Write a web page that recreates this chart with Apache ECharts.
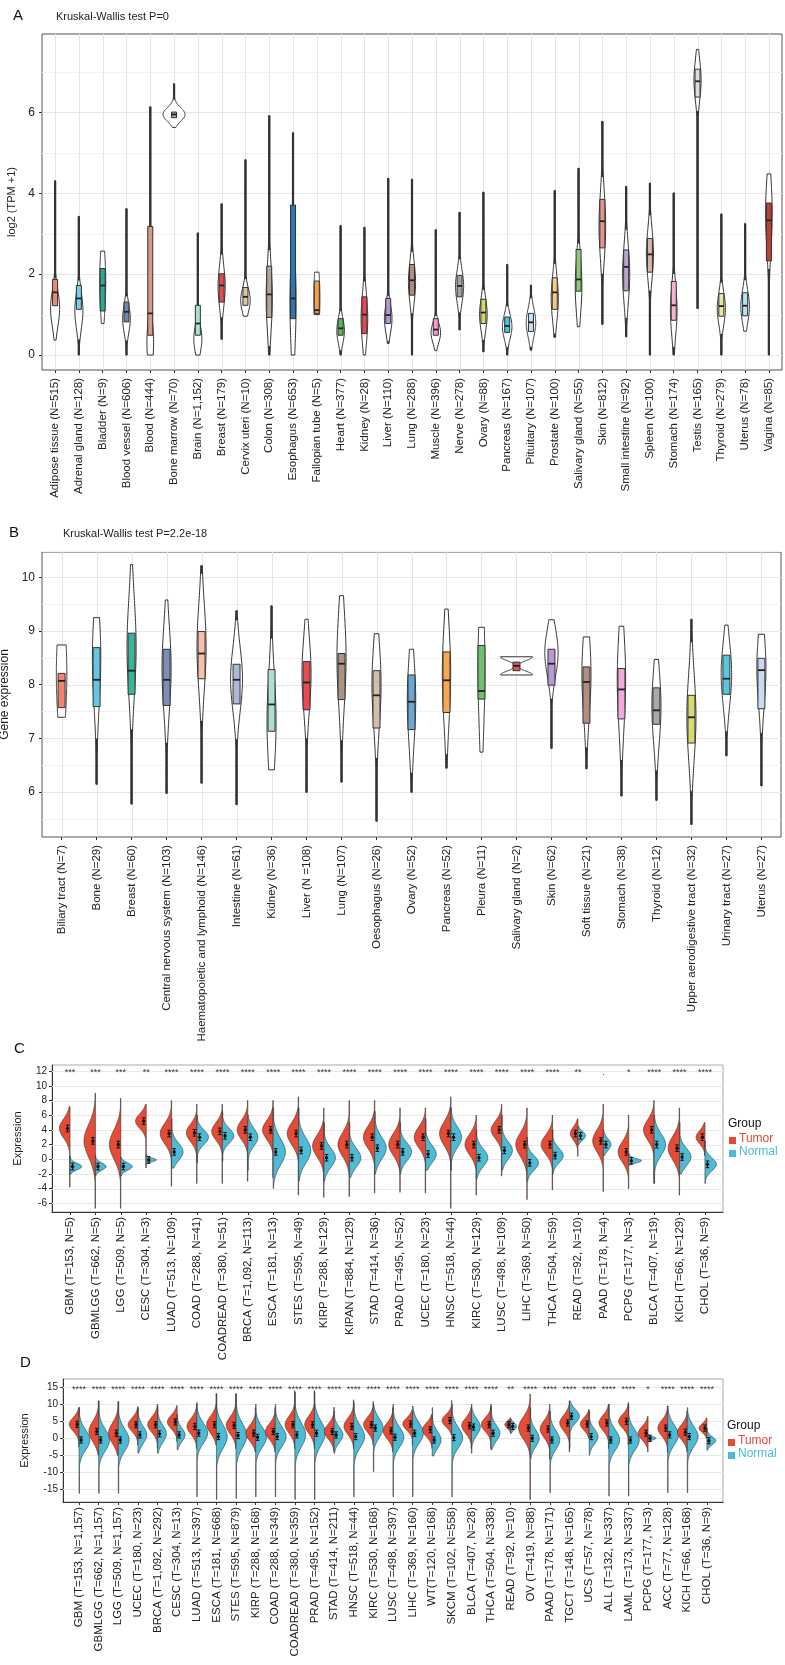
<!DOCTYPE html>
<html><head><meta charset="utf-8">
<script src="https://cdn.jsdelivr.net/npm/echarts@6/dist/echarts.min.js"></script>
<style>html,body{margin:0;padding:0;background:#fff}#c{width:785px;height:1665px}</style>
</head><body><div id="c"></div>
<script>
// ================= Panel A (GTEx tissues) =================
const aNames = ['Adipose tissue (N=515)','Adrenal gland (N=128)','Bladder (N=9)','Blood vessel (N=606)','Blood (N=444)','Bone marrow (N=70)','Brain (N=1,152)','Breast (N=179)','Cervix uteri (N=10)','Colon (N=308)','Esophagus (N=653)','Fallopian tube (N=5)','Heart (N=377)','Kidney (N=28)','Liver (N=110)','Lung (N=288)','Muscle (N=396)','Nerve (N=278)','Ovary (N=88)','Pancreas (N=167)','Pituitary (N=107)','Prostate (N=100)','Salivary gland (N=55)','Skin (N=812)','Small intestine (N=92)','Spleen (N=100)','Stomach (N=174)','Testis (N=165)','Thyroid (N=279)','Uterus (N=78)','Vagina (N=85)'];
const aMin  = [0.37,0,0.78,0,0,5.63,0,0.39,0.96,0,0,1.0,0,0,0.29,0,0.11,0.62,0.08,0,0.12,0.44,0.70,0.76,0.45,0,0,1.15,0,0.59,0];
const aQ1   = [1.22,1.13,1.09,0.82,0.49,5.87,0.49,1.31,1.23,0.93,0.90,1.03,0.49,0.53,0.78,1.48,0.49,1.44,0.78,0.56,0.58,1.13,1.58,2.65,1.59,2.05,0.86,6.38,0.96,0.97,2.33];
const aMed  = [1.55,1.40,1.72,1.07,1.03,5.95,0.78,1.72,1.44,1.50,1.40,1.11,0.66,1.00,0.99,1.85,0.63,1.71,1.05,0.72,0.81,1.55,1.87,3.31,2.18,2.49,1.23,6.77,1.21,1.22,3.33];
const aQ3   = [1.87,1.72,2.14,1.31,3.18,6.01,1.23,2.01,1.67,2.20,3.71,1.83,0.90,1.44,1.40,2.24,0.90,1.97,1.38,0.94,1.03,1.91,2.61,3.85,2.60,2.88,1.82,7.07,1.52,1.54,3.76];
const aMax  = [4.31,3.43,2.57,3.62,6.14,6.71,3.02,3.74,4.83,5.92,5.50,2.05,3.20,3.16,4.37,4.35,3.10,3.53,4.03,2.24,1.73,4.07,4.62,5.78,4.17,4.25,4.01,7.56,3.49,3.25,4.48];
const aMode = [1.15,1.1,1.8,0.9,0.3,5.95,0.4,1.7,1.35,1.4,1.3,1.4,0.6,0.9,0.9,1.8,0.55,1.7,1.0,0.7,0.8,1.4,1.7,3.2,2.0,2.5,1.1,6.8,1.15,1.2,3.5];
const aDens = [0.19,0.17,0.13,0.16,0.14,0.46,0.17,0.15,0.2,0.13,0.13,0.13,0.16,0.14,0.16,0.15,0.2,0.17,0.16,0.2,0.2,0.15,0.14,0.14,0.15,0.15,0.14,0.15,0.17,0.18,0.14];
const aSpread = [0.45,0.45,0.8,0.35,0.6,0.17,0.35,0.5,0.3,0.8,1.2,0.8,0.3,0.6,0.35,0.5,0.25,0.4,0.4,0.3,0.35,0.55,0.7,0.8,0.7,0.6,0.6,0.5,0.4,0.4,0.9];
const aColors = ['#F08A78','#79CFE6','#2BAA8E','#7286B5','#D89883','#A9A9A9','#A8E0D2','#E8474F','#D9C7A8','#B3A596','#2C76B2','#F5A04A','#58BA5E','#E04B55','#B895D5','#B08C82','#F29AD2','#A3A3A3','#D8D66A','#3FC9DD','#C9DEF3','#FDC78A','#8CCB7A','#E4948C','#B7A5CD','#D9B4A8','#F6B3D2','#DDDDDD','#EBE6A0','#B3E5EF','#BE4130'];
const aTicks = [0,2,4,6];
const aMinor = [1,3,5,7];

// ================= Panel B (cell lines) =================
const bNames = ['Biliary tract (N=7)','Bone (N=29)','Breast (N=60)','Central nervous system (N=103)','Haematopoietic and lymphoid (N=146)','Intestine (N=61)','Kidney (N=36)','Liver (N =108)','Lung (N=107)','Oesophagus (N=26)','Ovary (N=52)','Pancreas (N=52)','Pleura (N=11)','Salivary gland (N=2)','Skin (N=62)','Soft tissue (N=21)','Stomach (N=38)','Thyroid (N=12)','Upper aerodigestive tract (N=32)','Urinary tract (N=27)','Uterus (N=27)'];
const bMin  = [7.39,6.14,5.77,5.97,6.16,5.76,6.41,5.99,6.18,5.45,5.99,6.44,6.74,8.18,6.81,6.43,5.92,5.84,5.39,6.67,6.11];
const bQ1   = [7.57,7.59,7.82,7.61,8.11,7.64,7.13,7.53,7.72,7.19,7.16,7.48,7.73,8.26,7.99,7.28,7.36,7.26,6.91,7.82,7.55];
const bMed  = [8.07,8.09,8.26,8.09,8.58,8.09,7.63,8.04,8.39,7.80,7.68,8.08,7.88,8.35,8.39,8.05,7.91,7.52,7.39,8.11,8.27];
const bQ3   = [8.21,8.69,8.96,8.66,8.99,8.38,8.28,8.43,8.58,8.26,8.18,8.61,8.73,8.42,8.66,8.33,8.30,7.94,7.80,8.55,8.49];
const bMax  = [8.74,9.25,10.24,9.58,10.22,9.38,9.47,9.22,9.66,8.95,8.66,9.41,9.07,8.52,9.21,8.89,9.09,8.47,9.22,9.11,8.94];
const bMode = [8.2,8.5,8.7,8.3,8.7,8.1,7.3,8.2,8.5,8.0,7.7,8.2,8.3,[8.18,8.52],8.6,8.2,8.1,7.6,7.4,8.2,8.3];
const bDens = [0.15,0.12,0.13,0.13,0.13,0.17,0.13,0.13,0.13,0.13,0.12,0.12,0.1,0.46,0.19,0.13,0.12,0.13,0.13,0.15,0.13];
const bSpread = [1.0,0.9,0.9,0.8,0.8,0.6,0.9,0.7,0.9,0.8,0.8,0.9,1.2,0.07,0.45,0.8,0.9,0.7,0.8,0.6,0.7];
const bColors = ['#F4826F','#66C6E2','#3BB49C','#7D8EB8','#F9BFA8','#AEB9D9','#AEDFD3','#E84A50','#A99485','#D0C0AB','#6CA6D3','#F8A650','#6FC06D','#E05555','#B79AD6','#B38D84','#F0AADC','#A9A9A9','#D8DB70','#54C9DB','#C8DBF1'];
const bTicks = [6,7,8,9,10];
const bMinor = [5.5,6.5,7.5,8.5,9.5,10.5];

// ================= Panel C (TCGA paired) =================
const cNames = ['GBM (T=153, N=5)','GBMLGG (T=662, N=5)','LGG (T=509, N=5)','CESC (T=304, N=3)','LUAD (T=513, N=109)','COAD (T=288, N=41)','COADREAD (T=380, N=51)','BRCA (T=1,092, N=113)','ESCA (T=181, N=13)','STES (T=595, N=49)','KIRP (T=288, N=129)','KIPAN (T=884, N=129)','STAD (T=414, N=36)','PRAD (T=495, N=52)','UCEC (T=180, N=23)','HNSC (T=518, N=44)','KIRC (T=530, N=129)','LUSC (T=498, N=109)','LIHC (T=369, N=50)','THCA (T=504, N=59)','READ (T=92, N=10)','PAAD (T=178, N=4)','PCPG (T=177, N=3)','BLCA (T=407, N=19)','KICH (T=66, N=129)','CHOL (T=36, N=9)'];
const cSig = ['***','***','***','**','****','****','****','****','****','****','****','****','****','****','****','****','****','****','****','****','**','.','*','****','****','****'];
const cTMin  = [-3.8,-6.7,-6.7,-1.2,-3.7,-3.3,-3.3,-3.0,-2.5,-4.9,-5.2,-5.1,-4.6,-4.5,-4.6,-6.7,-4.9,-2.3,-5.5,-4.2,0.4,-4.4,-4.0,-3.3,-4.9,0.5];
const cTMax  = [7.2,9.0,8.3,7.5,8.0,7.5,7.5,8.0,8.0,8.5,7.0,8.0,8.0,7.0,7.0,8.5,6.0,7.5,7.0,6.0,5.5,7.5,6.0,8.0,7.0,5.0];
const cTMean = [4.2,2.5,2.0,5.2,3.5,3.6,3.8,4.0,4.0,3.5,1.8,2.0,3.0,2.0,3.0,3.5,2.0,4.0,2.0,2.0,3.5,2.5,1.0,4.0,1.5,3.0];
const cTDens = [0.42,0.45,0.45,0.42,0.45,0.42,0.42,0.42,0.42,0.45,0.45,0.45,0.45,0.45,0.45,0.45,0.45,0.42,0.45,0.45,0.3,0.42,0.42,0.42,0.45,0.35];
const cTSpread = [1.3,2.2,2.0,1.0,1.4,1.2,1.2,1.3,1.3,1.5,1.5,1.6,1.5,1.5,1.4,1.6,1.4,1.2,1.6,1.3,0.9,1.5,1.4,1.4,1.6,0.9];
const cNMin  = [-2.0,-2.3,-2.3,-0.7,-1.2,-0.5,-0.3,-1.5,-4.0,-3.0,-3.0,-2.5,-2.0,-2.0,-1.5,-1.5,-2.7,-1.5,-3.0,-2.0,2.0,0.5,-0.8,-3.3,-2.0,-3.3];
const cNMax  = [0.4,0.5,0.3,0.6,5.5,6.0,6.5,6.0,7.0,7.0,5.0,5.0,6.5,5.0,5.5,7.0,4.0,6.0,3.0,4.0,4.5,4.0,0.8,6.0,5.0,2.5];
const cNMean = [-1.0,-1.0,-1.0,-0.1,1.0,3.0,3.2,3.0,1.0,1.2,0.2,0.2,1.5,1.0,0.7,3.0,0.2,1.2,-0.5,0.5,3.2,2.0,-0.2,2.0,0.3,-0.7];
const cNDens = [0.46,0.42,0.45,0.4,0.45,0.45,0.45,0.4,0.48,0.48,0.45,0.45,0.45,0.45,0.42,0.42,0.45,0.42,0.45,0.42,0.3,0.3,0.5,0.45,0.45,0.45];
const cNSpread = [0.45,0.5,0.5,0.25,1.2,1.0,1.0,1.2,1.8,1.7,1.3,1.3,1.5,1.2,1.2,1.4,1.2,1.2,1.0,1.0,0.6,0.8,0.3,1.5,1.2,0.9];
const cTicks = [-6,-4,-2,0,2,4,6,8,10,12];
const cSigY = 12.1;
const cErr = 0.45;

// ================= Panel D (TCGA + GTEx) =================
const dNames = ['GBM (T=153, N=1,157)','GBMLGG (T=662, N=1,157)','LGG (T=509, N=1,157)','UCEC (T=180, N=23)','BRCA (T=1,092, N=292)','CESC (T=304, N=13)','LUAD (T=513, N=397)','ESCA (T=181, N=668)','STES (T=595, N=879)','KIRP (T=288, N=168)','COAD (T=288, N=349)','COADREAD (T=380, N=359)','PRAD (T=495, N=152)','STAD (T=414, N=211)','HNSC (T=518, N=44)','KIRC (T=530, N=168)','LUSC (T=498, N=397)','LIHC (T=369, N=160)','WT(T=120, N=168)','SKCM (T=102, N=558)','BLCA (T=407, N=28)','THCA (T=504, N=338)','READ (T=92, N=10)','OV (T=419, N=88)','PAAD (T=178, N=171)','TGCT (T=148, N=165)','UCS (T=57, N=78)','ALL (T=132, N=337)','LAML (T=173, N=337)','PCPG (T=177, N=3)','ACC (T=77, N=128)','KICH (T=66, N=168)','CHOL (T=36, N=9)'];
const dSig = ['****','****','****','****','****','****','****','****','****','****','****','****','****','****','****','****','****','****','****','****','****','****','**','****','****','****','****','****','****','*','****','****','****'];
const dTMin  = [-2.5,-5,-5,-2,-3,-1,-3,-2,-3,-4,-4,-3,-3,-4,-3,-2,-4,-2,-3,1,-3,-3,1.5,-18,-6,-4,0,-3,-2,-4,-4,-4,0];
const dTMax  = [9.1,11.0,10.8,9.3,10,9.6,10,13.2,13.2,9.0,9.0,14.0,14.0,9.1,11.3,10.8,9.0,8.3,7.0,11.1,9.2,10.0,6.0,13.0,10,11,8.5,10,10.5,6.5,9.5,8.0,6.0];
const dTMean = [4.1,2.0,1.5,4.0,4.0,4.8,3.5,4.0,3.8,1.5,2.0,4.0,4.0,2.0,3.5,4.0,2.2,4.2,2.5,5.2,3.7,4.0,4.0,3.0,2.7,4.5,4.2,4.5,5.0,1.5,3.0,1.8,3.0];
const dTDens = [0.5,0.5,0.5,0.5,0.5,0.5,0.5,0.5,0.5,0.5,0.5,0.5,0.5,0.5,0.5,0.5,0.5,0.5,0.5,0.5,0.5,0.5,0.3,0.6,0.5,0.5,0.45,0.5,0.5,0.5,0.5,0.5,0.4];
const dTSpread = [2.0,3.0,3.0,2.0,2.2,2.0,2.3,2.5,2.5,2.3,2.3,2.5,2.5,2.2,2.4,2.2,2.3,1.8,2.0,1.8,2.2,2.0,1.0,3.2,2.5,2.3,1.8,2.2,2.0,2.0,2.3,2.2,1.3];
const dNMin  = [-16.2,-16.2,-16.2,-4.4,-4.4,-3.4,-17.2,-18,-17.7,-17.2,-17.2,-18,-18,-4.5,-17.2,-9.8,-17.2,-17.2,-5.2,-17.2,-4.4,-3.4,1.5,-6,-16,-3,-5,-17,-17,-1.0,-16,-16,-3.5];
const dNMax  = [9.0,11.0,10.8,9.0,9.5,7.0,10.5,13.0,13.0,10.0,10.0,13.5,13.5,8.0,10.5,10.0,10.0,9.5,9.0,10.0,10.0,9.5,5.5,9.0,8.0,11,8.0,10,10,1.0,9.5,9.0,3.0];
const dNMean = [-0.5,-0.5,-0.5,1.0,1.3,1.0,1.5,0.5,0.8,0.3,0.5,1.0,1.5,1.0,0.5,3.0,0.3,1.5,-0.5,0.2,3.3,1.5,3.5,0.0,-0.5,6.5,0.5,-0.5,-0.5,0.0,1.0,0.5,-0.7];
const dNDens = [0.55,0.55,0.55,0.45,0.45,0.4,0.55,0.55,0.55,0.55,0.55,0.55,0.55,0.45,0.55,0.5,0.55,0.55,0.45,0.55,0.45,0.45,0.3,0.45,0.5,0.5,0.45,0.55,0.55,0.4,0.55,0.55,0.45];
const dNSpread = [3.0,3.2,3.2,2.5,2.5,2.0,3.0,3.5,3.5,3.0,3.0,3.5,3.5,2.2,3.2,2.8,3.0,3.0,2.5,3.0,2.4,2.3,1.0,2.5,2.8,2.0,2.2,3.0,3.0,0.5,3.0,3.0,1.2];
const dTicks = [-15,-10,-5,0,5,10,15];
const dSigY = 15;
const dErr = 0.9;

const tumorColor = '#E64B35', normalColor = '#4DBBD5';

// ================= build =================
const FONT = "'Liberation Sans', Arial, Helvetica, sans-serif";
const chart = echarts.init(document.getElementById('c'), null, {renderer:'canvas', width:785, height:1665});
const idx = n => Array.from({length:n}, (_, i) => i);

const gridsCfg = [
  {left:42, top:34, width:740, height:336, borderColor:'#555'},
  {left:42, top:552, width:739, height:285, borderColor:'#555'},
  {left:52, top:1065, width:671, height:147, borderColor:'#aaa'},
  {left:63, top:1379, width:660, height:123, borderColor:'#aaa'}
];
const panels = [
  {names:aNames, xmin:-0.55, xmax:aNames.length-0.45, ymin:-0.37, ymax:7.94, ticks:aTicks, yname:'log2 (TPM +1)', nameGap:24, nameSize:11, labMargin:8, yLabSize:12, yLabMargin:7, axisLine:false},
  {names:bNames, xmin:-0.56, xmax:bNames.length-0.44, ymin:5.156, ymax:10.475, ticks:bTicks, yname:'Gene expression', nameGap:25, nameSize:12, labMargin:8, yLabSize:12, yLabMargin:7, axisLine:false},
  {names:cNames, xmin:-0.71, xmax:cNames.length-0.29, ymin:-7.2, ymax:12.85, ticks:cTicks, yname:'Expression', nameGap:29, nameSize:11, labMargin:5, yLabSize:10, yLabMargin:5, axisLine:true},
  {names:dNames, xmin:-0.82, xmax:dNames.length-0.18, ymin:-18.74, ymax:17.44, ticks:dTicks, yname:'Expression', nameGap:33, nameSize:11, labMargin:5, yLabSize:10, yLabMargin:5, axisLine:true}
];

const grid = gridsCfg.map(g => ({left:g.left, top:g.top, width:g.width, height:g.height, show:true, borderColor:g.borderColor, borderWidth:1, backgroundColor:'#fff', containLabel:false, outerBoundsMode:'none'}));
const xAxis = panels.map((p, k) => ({
  type:'value', gridIndex:k, min:p.xmin, max:p.xmax,
  axisLine:{show:p.axisLine, onZero:false, lineStyle:{color:'#333', width:1}},
  axisTick:{show:true, customValues:idx(p.names.length), length:3, lineStyle:{color:'#333'}},
  axisLabel:{show:true, customValues:idx(p.names.length), formatter:v => p.names[Math.round(v)], rotate:90, fontSize:11.5, color:'#222', margin:p.labMargin, fontFamily:FONT},
  splitLine:{show:false}
}));
const yAxis = panels.map((p, k) => ({
  type:'value', gridIndex:k, min:p.ymin, max:p.ymax,
  name:p.yname, nameLocation:'middle', nameGap:p.nameGap, nameRotate:90,
  nameTextStyle:{fontSize:p.nameSize, color:'#222', fontFamily:FONT},
  axisLine:{show:p.axisLine, onZero:false, lineStyle:{color:'#333', width:1}},
  axisTick:{show:true, customValues:p.ticks, length:3, lineStyle:{color:'#333'}},
  axisLabel:{show:true, customValues:p.ticks, fontSize:p.yLabSize, color:'#222', margin:p.yLabMargin, fontFamily:FONT},
  splitLine:{show:false}
}));

function hLines(gi, vals, color, lw) {
  return {type:'custom', xAxisIndex:gi, yAxisIndex:gi, z:1, silent:true, animation:false,
    data: vals.map(v => [0, v]),
    renderItem(params, api) {
      const cs = params.coordSys;
      const y = Math.round(api.coord([0, vals[params.dataIndex]])[1]) + 0.5;
      return {type:'line', shape:{x1:cs.x, y1:y, x2:cs.x + cs.width, y2:y}, style:{stroke:color, lineWidth:lw}};
    }};
}
function vLines(gi, n, color, lw) {
  return {type:'custom', xAxisIndex:gi, yAxisIndex:gi, z:1, silent:true, animation:false,
    data: idx(n).map(i => [i, 0]),
    renderItem(params, api) {
      const cs = params.coordSys;
      const x = Math.round(api.coord([params.dataIndex, 0])[0]) + 0.5;
      return {type:'line', shape:{x1:x, y1:cs.y, x2:x, y2:cs.y + cs.height}, style:{stroke:color, lineWidth:lw}};
    }};
}

function violinBox(gi, P) {
  return {type:'custom', xAxisIndex:gi, yAxisIndex:gi, z:3, silent:true, animation:false,
    data: P.names.map((n, i) => [i, P.med[i]]),
    renderItem(params, api) {
      const i = params.dataIndex;
      const cx = api.coord([i, P.med[i]])[0];
      const band = api.size([1, 0])[0];
      const Y = v => api.coord([i, v])[1];
      const modes = [].concat(P.mode[i]);
      const sp = P.spread[i];
      const N = 80, ys = [], ds = [];
      let mx = 0;
      for (let k = 0; k <= N; k++) {
        const y = P.min[i] + (P.max[i] - P.min[i]) * k / N;
        let d = 0;
        modes.forEach(m => { d += Math.exp(-0.5 * Math.pow((y - m) / sp, 2)); });
        ys.push(y); ds.push(d); if (d > mx) mx = d;
      }
      const ws = ds.map(d => P.dens[i] * band * d / mx);
      const L = [], R = [];
      for (let k = 0; k <= N; k++) {
        const w = Math.max(0.6, ws[k]);
        const py = Y(ys[k]);
        L.push([cx - w, py]); R.push([cx + w, py]);
      }
      const poly = L.concat(R.reverse());
      const children = [{type:'polygon', shape:{points:poly}, style:{fill:'#fff', stroke:'#333', lineWidth:1}}];
      // thin tails drawn as solid lines
      const TH = 1.0;
      let lo = 0; while (lo < N && ws[lo] < TH) lo++;
      let hi = N; while (hi > 0 && ws[hi] < TH) hi--;
      if (lo > 0) children.push({type:'line', shape:{x1:cx, y1:Y(ys[0]), x2:cx, y2:Y(ys[Math.min(lo, N)])}, style:{stroke:'#333', lineWidth:2.0}});
      if (hi < N) children.push({type:'line', shape:{x1:cx, y1:Y(ys[Math.max(hi, 0)]), x2:cx, y2:Y(ys[N])}, style:{stroke:'#333', lineWidth:2.0}});
      const bh = P.boxHalf * band;
      const yq3 = Y(P.q3[i]), yq1 = Y(P.q1[i]), ym = Y(P.med[i]);
      children.push({type:'rect', shape:{x:cx - bh, y:yq3, width:2 * bh, height:Math.max(1, yq1 - yq3)}, style:{fill:P.colors[i], stroke:'#333', lineWidth:1}});
      children.push({type:'line', shape:{x1:cx - bh, y1:ym, x2:cx + bh, y2:ym}, style:{stroke:'#222', lineWidth:1.8}});
      return {type:'group', children};
    }};
}

function splitViolin(gi, P) {
  return {type:'custom', xAxisIndex:gi, yAxisIndex:gi, z:3, silent:true, animation:false,
    data: P.names.map((n, i) => [i, P.t.mean[i]]),
    renderItem(params, api) {
      const i = params.dataIndex;
      const cx = api.coord([i, 0])[0];
      const band = api.size([1, 0])[0];
      const Y = v => api.coord([i, v])[1];
      const children = [];
      [[P.t, -1, tumorColor], [P.n, 1, normalColor]].forEach(([h, dir, col]) => {
        const mn = h.min[i], mxv = h.max[i], mu = h.mean[i], W = h.dens[i] * band, sp = h.spread[i];
        const N = 90, pts = [];
        for (let k = 0; k <= N; k++) {
          const y = mn + (mxv - mn) * k / N;
          const w = Math.max(0.4, W * Math.exp(-0.5 * Math.pow((y - mu) / sp, 2)));
          pts.push([cx + dir * w, Y(y)]);
        }
        pts.push([cx, Y(mxv)]); pts.push([cx, Y(mn)]);
        children.push({type:'polygon', shape:{points:pts}, style:{fill:col, stroke:'#333', lineWidth:0.6}});
      });
      [[P.t, -1], [P.n, 1]].forEach(([h, dir]) => {
        const mu = h.mean[i];
        const x = cx + dir * 0.1 * band;
        const y0 = Y(mu + P.err), y1 = Y(mu - P.err);
        children.push({type:'line', shape:{x1:x, y1:y0, x2:x, y2:y1}, style:{stroke:'#111', lineWidth:1}});
        children.push({type:'line', shape:{x1:x - 1.8, y1:y0, x2:x + 1.8, y2:y0}, style:{stroke:'#111', lineWidth:1}});
        children.push({type:'line', shape:{x1:x - 1.8, y1:y1, x2:x + 1.8, y2:y1}, style:{stroke:'#111', lineWidth:1}});
        children.push({type:'circle', shape:{cx:x, cy:Y(mu), r:1.7}, style:{fill:'#111'}});
      });
      return {type:'group', children};
    }};
}

function sigText(gi, names, sig, sigY) {
  return {type:'custom', xAxisIndex:gi, yAxisIndex:gi, z:4, silent:true, animation:false,
    data: names.map((n, i) => [i, sigY]),
    renderItem(params, api) {
      const i = params.dataIndex;
      const p = api.coord([i, sigY]);
      return {type:'text', x:p[0], y:p[1] + 2, style:{text:sig[i], align:'center', verticalAlign:'middle', fontSize:9, fontFamily:FONT, fill:'#333'}};
    }};
}

const series = [
  hLines(0, aTicks, '#e6e6e6', 1), hLines(0, aMinor, '#f2f2f2', 1), vLines(0, aNames.length, '#e6e6e6', 1),
  violinBox(0, {names:aNames, min:aMin, q1:aQ1, med:aMed, q3:aQ3, max:aMax, mode:aMode, dens:aDens, spread:aSpread, colors:aColors, boxHalf:0.105}),
  hLines(1, bTicks, '#e6e6e6', 1), hLines(1, bMinor, '#f2f2f2', 1), vLines(1, bNames.length, '#e6e6e6', 1),
  violinBox(1, {names:bNames, min:bMin, q1:bQ1, med:bMed, q3:bQ3, max:bMax, mode:bMode, dens:bDens, spread:bSpread, colors:bColors, boxHalf:0.1}),
  hLines(2, cTicks, '#e8e8e8', 1),
  splitViolin(2, {names:cNames, err:cErr,
    t:{min:cTMin, max:cTMax, mean:cTMean, dens:cTDens, spread:cTSpread},
    n:{min:cNMin, max:cNMax, mean:cNMean, dens:cNDens, spread:cNSpread}}),
  sigText(2, cNames, cSig, cSigY),
  hLines(3, dTicks, '#e8e8e8', 1),
  splitViolin(3, {names:dNames, err:dErr,
    t:{min:dTMin, max:dTMax, mean:dTMean, dens:dTDens, spread:dTSpread},
    n:{min:dNMin, max:dNMax, mean:dNMean, dens:dNDens, spread:dNSpread}}),
  sigText(3, dNames, dSig, dSigY)
];

const txt = (x, y, text, size, color) => ({type:'text', left:x, top:y, silent:true, style:{text, fontSize:size, fill:color || '#111', fontFamily:FONT}});
const legend = (x, y) => [
  txt(x, y, 'Group', 12, '#111'),
  {type:'rect', left:x + 1, top:y + 19, silent:true, shape:{width:7, height:7}, style:{fill:tumorColor}},
  txt(x + 11, y + 15, 'Tumor', 12, tumorColor),
  {type:'rect', left:x + 1, top:y + 32, silent:true, shape:{width:7, height:7}, style:{fill:normalColor}},
  txt(x + 11, y + 28, 'Normal', 12, normalColor)
];

const graphic = [
  txt(13, 8, 'A', 15), txt(56, 11, 'Kruskal-Wallis test P=0', 11, '#222'),
  txt(9, 525, 'B', 15), txt(63, 528, 'Kruskal-Wallis test P=2.2e-18', 11, '#222'),
  txt(14, 1041, 'C', 15),
  txt(20, 1355, 'D', 15)
].concat(legend(728, 1118), legend(727, 1420));

chart.setOption({
  animation:false,
  textStyle:{fontFamily:FONT},
  grid, xAxis, yAxis, series, graphic
});
</script></body></html>
